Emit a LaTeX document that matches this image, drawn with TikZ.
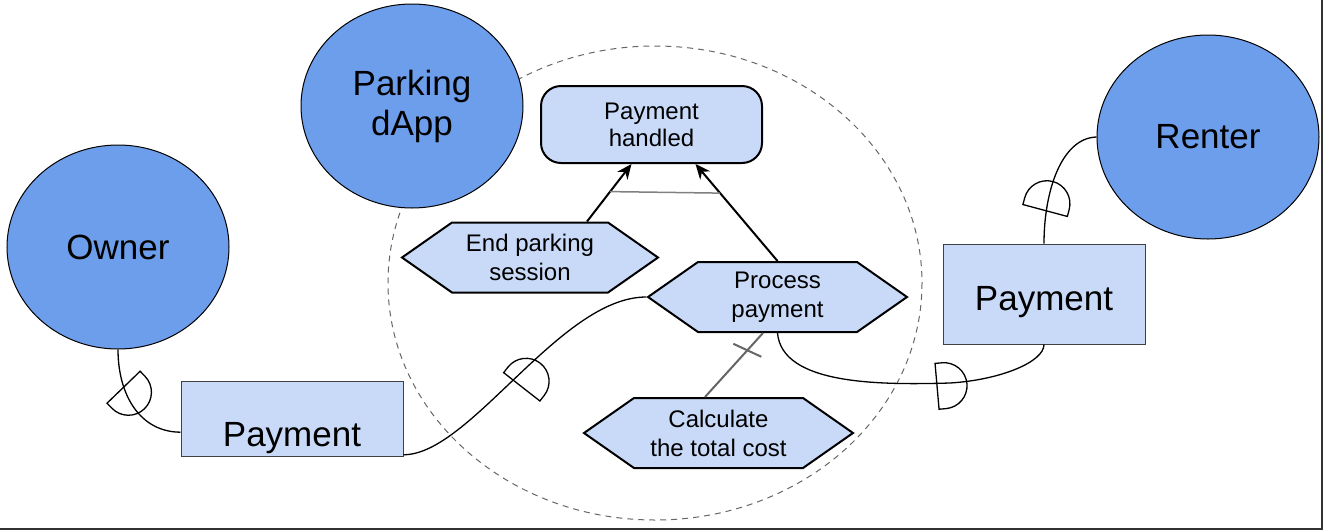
\documentclass[tikz,border=0pt]{standalone}
\usepackage{fontspec}
\setmainfont{Liberation Sans}
\setsansfont{Liberation Sans}
\usetikzlibrary{positioning,shapes.geometric,shapes.symbols,arrows.meta}
\definecolor{actorBlue}{HTML}{6D9EEB}
\definecolor{paleBlue}{HTML}{C9DAF8}
\tikzset{
  actor/.style={ellipse, fill=actorBlue, draw, line width=0.5pt, minimum width=111pt, minimum height=102pt, inner sep=0pt, align=center, font=\sffamily\fontsize{17.5}{20}\selectfont},
  resource/.style={rectangle, fill=paleBlue, draw=black!75, line width=0.5pt, inner sep=0pt, text depth=0pt, font=\sffamily\fontsize{17.5}{20}\selectfont},
  goal/.style={rectangle, rounded corners=10pt, fill=paleBlue, draw, line width=1pt, minimum width=110.5pt, minimum height=38.5pt, inner sep=0pt, align=center, font=\sffamily\fontsize{12}{13.5}\selectfont},
  task/.style={signal, signal to=west and east, signal pointer angle=70, fill=paleBlue, draw, line width=1pt, minimum height=35pt, inner sep=0pt, align=center, font=\sffamily\fontsize{12}{14.5}\selectfont},
  depLink/.style={line width=0.65pt},
  applyOp/.style={-{Stealth[length=7.5pt,width=6.5pt]}, line width=1pt},
  decomp/.style={draw=black!60, line width=1pt},
  depMark/.pic={\draw[depLink] (-15,-23) -- (-15,23) -- (-8,23) arc[start angle=90, end angle=-90, radius=23] -- cycle;}
}
\begin{document}
\begin{tikzpicture}[x=0.5pt, y=-0.5pt, font=\sffamily]
  \useasboundingbox (0,0) rectangle (1324,531);
  % actor boundary
  \draw[draw=black!60, line width=0.5pt, dash pattern=on 3pt off 2.5pt] (655,283) ellipse [x radius=267, y radius=237];

  \node [actor] (owner) at (118,247) {Owner};
  \node [actor] (dapp) at (412,106) {Parking\\dApp};
  \node [actor] (renter) at (1208,137) {Renter};
  \node [resource, minimum width=111pt, minimum height=37.5pt, text height=28pt] (payL) at (292,418.5) {Payment};
  \node [resource, minimum width=101pt, minimum height=50pt, text height=16pt] (payR) at (1044,294) {Payment};

  \node [goal] (handled) at (651.5,124.5) {Payment\\handled};
  \node [task, minimum width=128pt] (endSession) at (530,257.5) {End parking\\session};
  \node [task, minimum width=129.5pt] (procPay) at (777.5,297) {Process\\payment};
  \node [task, minimum width=134.5pt] (calcCost) at (718.5,433) {Calculate\\the total cost};

  % dependencies
  \draw[depLink] (owner.south) .. controls (118,395) and (140,432) .. (payL.187);
  \draw[depLink] (payL.-18) .. controls (470,455) and (560,297) .. (procPay.west);
  \draw[depLink] (procPay.south) .. controls (782,385) and (880,385) .. (950,383)
                 .. controls (1000,380) and (1044,362) .. (payR.south);
  \draw[depLink] (payR.north) .. controls (1044,190) and (1062,138) .. (renter.west);
  \pic[rotate=-46] at (134,398) {depMark};
  \pic[rotate=52] at (531,375) {depMark};
  \pic[rotate=5] at (952,385) {depMark};
  \pic[rotate=75] at (1049,196) {depMark};

  % means-end
  \draw[applyOp] ([xshift=28.5pt]endSession.north) -- coordinate[pos=.52] (andL) ([xshift=-10pt]handled.south);
  \draw[applyOp] (procPay.north) -- coordinate[pos=.7] (andR) ([xshift=22pt]handled.south);
  \draw[draw=black!50, line width=0.75pt] (andL) -- (andR);

  % decomposition
  \draw[decomp] ([xshift=-7.25pt]procPay.south) -- coordinate[pos=.27] (cut) ([xshift=-6.75pt]calcCost.north);
  \draw[decomp] (cut) +(-14,-6.5) -- +(14,6.5);

  \draw[line width=1pt, draw=black!80] (0,528.5) -- (1322,528.5) -- (1322,0);
\end{tikzpicture}
\end{document}
